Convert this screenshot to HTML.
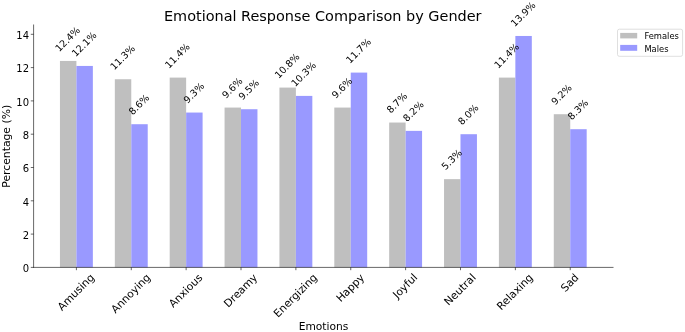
<!DOCTYPE html><html><head><meta charset="utf-8"><title>Emotional Response Comparison by Gender</title>
<style>html,body{margin:0;padding:0;background:#fff}svg{display:block}text{font-family:"DejaVu Sans","Liberation Sans",sans-serif;fill:#000}</style></head><body>
<svg width="685" height="332" viewBox="0 0 685 332">
<rect width="685" height="332" fill="#fff"/>
<rect x="59.95" y="60.94" width="16.45" height="206.46" fill="#bfbfbf"/>
<rect x="76.40" y="65.94" width="16.45" height="201.46" fill="#9999ff"/>
<rect x="114.82" y="79.25" width="16.45" height="188.14" fill="#bfbfbf"/>
<rect x="131.27" y="124.21" width="16.45" height="143.19" fill="#9999ff"/>
<rect x="169.69" y="77.59" width="16.45" height="189.81" fill="#bfbfbf"/>
<rect x="186.14" y="112.55" width="16.45" height="154.84" fill="#9999ff"/>
<rect x="224.56" y="107.56" width="16.45" height="159.84" fill="#bfbfbf"/>
<rect x="241.01" y="109.22" width="16.45" height="158.17" fill="#9999ff"/>
<rect x="279.43" y="87.58" width="16.45" height="179.82" fill="#bfbfbf"/>
<rect x="295.88" y="95.90" width="16.45" height="171.50" fill="#9999ff"/>
<rect x="334.30" y="107.56" width="16.45" height="159.84" fill="#bfbfbf"/>
<rect x="350.75" y="72.59" width="16.45" height="194.80" fill="#9999ff"/>
<rect x="389.17" y="122.54" width="16.45" height="144.85" fill="#bfbfbf"/>
<rect x="405.62" y="130.87" width="16.45" height="136.53" fill="#9999ff"/>
<rect x="444.04" y="179.15" width="16.45" height="88.24" fill="#bfbfbf"/>
<rect x="460.49" y="134.20" width="16.45" height="133.20" fill="#9999ff"/>
<rect x="498.91" y="77.59" width="16.45" height="189.81" fill="#bfbfbf"/>
<rect x="515.36" y="35.97" width="16.45" height="231.43" fill="#9999ff"/>
<rect x="553.78" y="114.22" width="16.45" height="153.18" fill="#bfbfbf"/>
<rect x="570.23" y="129.20" width="16.45" height="138.19" fill="#9999ff"/>
<g stroke="#000" stroke-width="0.6" fill="none">
<line x1="33.6" y1="24.5" x2="33.6" y2="267.7"/>
<line x1="33.300000000000004" y1="267.4" x2="613.5" y2="267.4"/>
<line x1="30.80" y1="267.40" x2="33.6" y2="267.40"/>
<line x1="30.80" y1="234.10" x2="33.6" y2="234.10"/>
<line x1="30.80" y1="200.80" x2="33.6" y2="200.80"/>
<line x1="30.80" y1="167.50" x2="33.6" y2="167.50"/>
<line x1="30.80" y1="134.20" x2="33.6" y2="134.20"/>
<line x1="30.80" y1="100.90" x2="33.6" y2="100.90"/>
<line x1="30.80" y1="67.60" x2="33.6" y2="67.60"/>
<line x1="30.80" y1="34.30" x2="33.6" y2="34.30"/>
<line x1="76.40" y1="267.4" x2="76.40" y2="270.20"/>
<line x1="131.27" y1="267.4" x2="131.27" y2="270.20"/>
<line x1="186.14" y1="267.4" x2="186.14" y2="270.20"/>
<line x1="241.01" y1="267.4" x2="241.01" y2="270.20"/>
<line x1="295.88" y1="267.4" x2="295.88" y2="270.20"/>
<line x1="350.75" y1="267.4" x2="350.75" y2="270.20"/>
<line x1="405.62" y1="267.4" x2="405.62" y2="270.20"/>
<line x1="460.49" y1="267.4" x2="460.49" y2="270.20"/>
<line x1="515.36" y1="267.4" x2="515.36" y2="270.20"/>
<line x1="570.23" y1="267.4" x2="570.23" y2="270.20"/>
</g>
<text x="29.10" y="272.10" font-size="10.0" text-anchor="end">0</text>
<text x="29.10" y="238.80" font-size="10.0" text-anchor="end">2</text>
<text x="29.10" y="205.50" font-size="10.0" text-anchor="end">4</text>
<text x="29.10" y="172.20" font-size="10.0" text-anchor="end">6</text>
<text x="29.10" y="138.90" font-size="10.0" text-anchor="end">8</text>
<text x="29.10" y="105.60" font-size="10.0" text-anchor="end">10</text>
<text x="29.10" y="72.30" font-size="10.0" text-anchor="end">12</text>
<text x="29.10" y="39.00" font-size="10.0" text-anchor="end">14</text>
<text transform="translate(61.99,311.13) rotate(-45)" font-size="10.7">Amusing</text>
<text transform="translate(115.56,313.72) rotate(-45)" font-size="10.7">Annoying</text>
<text transform="translate(173.26,308.07) rotate(-45)" font-size="10.7">Anxious</text>
<text transform="translate(228.14,308.06) rotate(-45)" font-size="10.7">Dreamy</text>
<text transform="translate(278.07,317.93) rotate(-45)" font-size="10.7">Energizing</text>
<text transform="translate(340.63,302.56) rotate(-45)" font-size="10.7">Happy</text>
<text transform="translate(397.25,299.05) rotate(-45)" font-size="10.7">Joyful</text>
<text transform="translate(448.61,306.08) rotate(-45)" font-size="10.7">Neutral</text>
<text transform="translate(501.20,310.64) rotate(-45)" font-size="10.7">Relaxing</text>
<text transform="translate(565.19,292.39) rotate(-45)" font-size="10.7">Sad</text>
<text transform="translate(59.26,52.26) rotate(-45)" font-size="9.6">12.4%</text>
<text transform="translate(75.71,57.26) rotate(-45)" font-size="9.6">12.1%</text>
<text transform="translate(114.13,70.58) rotate(-45)" font-size="9.6">11.3%</text>
<text transform="translate(132.74,115.53) rotate(-45)" font-size="9.6">8.6%</text>
<text transform="translate(169.00,68.91) rotate(-45)" font-size="9.6">11.4%</text>
<text transform="translate(187.61,103.88) rotate(-45)" font-size="9.6">9.3%</text>
<text transform="translate(226.03,98.88) rotate(-45)" font-size="9.6">9.6%</text>
<text transform="translate(242.48,100.55) rotate(-45)" font-size="9.6">9.5%</text>
<text transform="translate(278.74,78.90) rotate(-45)" font-size="9.6">10.8%</text>
<text transform="translate(295.19,87.23) rotate(-45)" font-size="9.6">10.3%</text>
<text transform="translate(335.77,98.88) rotate(-45)" font-size="9.6">9.6%</text>
<text transform="translate(350.06,63.92) rotate(-45)" font-size="9.6">11.7%</text>
<text transform="translate(390.64,113.87) rotate(-45)" font-size="9.6">8.7%</text>
<text transform="translate(407.09,122.19) rotate(-45)" font-size="9.6">8.2%</text>
<text transform="translate(445.51,170.48) rotate(-45)" font-size="9.6">5.3%</text>
<text transform="translate(461.96,125.52) rotate(-45)" font-size="9.6">8.0%</text>
<text transform="translate(498.22,68.91) rotate(-45)" font-size="9.6">11.4%</text>
<text transform="translate(514.67,27.29) rotate(-45)" font-size="9.6">13.9%</text>
<text transform="translate(555.25,105.54) rotate(-45)" font-size="9.6">9.2%</text>
<text transform="translate(571.70,120.53) rotate(-45)" font-size="9.6">8.3%</text>
<text x="322.75" y="21.0" font-size="14.45" text-anchor="middle">Emotional Response Comparison by Gender</text>
<text x="323.55" y="329.9" font-size="10.7" text-anchor="middle">Emotions</text>
<text transform="translate(10.1,146.30) rotate(-90)" font-size="10.8" text-anchor="middle">Percentage (%)</text>
<rect x="617.5" y="29.2" width="65.1" height="27.1" rx="1.8" ry="1.8" fill="#fff" stroke="#d4d4d4" stroke-width="0.75"/>
<rect x="620.2" y="32.9" width="17" height="5.5" fill="#bfbfbf"/>
<rect x="620.2" y="44.9" width="17" height="5.9" fill="#9999ff"/>
<text x="644.4" y="39.1" font-size="8.35">Females</text>
<text x="644.4" y="51.75" font-size="8.35">Males</text>
</svg></body></html>
